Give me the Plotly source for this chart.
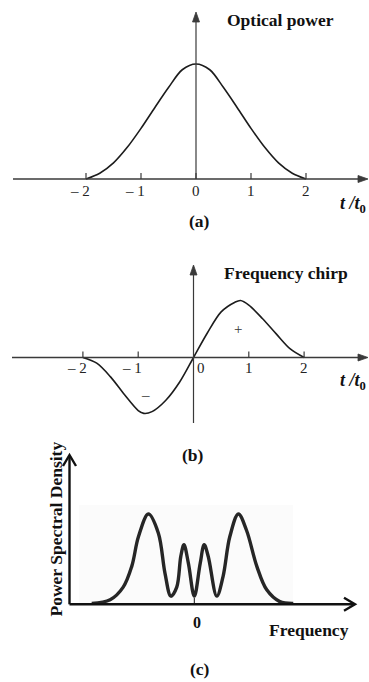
import plotly.graph_objects as go

W, H = 369, 682
SERIF = "Liberation Serif, Times New Roman, serif"
INK = "#111111"
AXIS = "#3a3a3a"

# (a) optical power of the pulse versus normalised time t/t0
power_t = [-2, -1.75, -1.5, -1.25, -1, -0.75, -0.5, -0.25, 0,
           0.25, 0.5, 0.75, 1, 1.25, 1.5, 1.75, 2]
power_val = [0, 0.05, 0.14, 0.275, 0.44, 0.62, 0.795, 0.95, 1.0,
             0.95, 0.795, 0.62, 0.44, 0.275, 0.14, 0.05, 0]

# (b) frequency chirp versus t/t0
chirp_t = [-2, -1.75, -1.5, -1.25, -1, -0.9, -0.75, -0.5, -0.25, 0,
           0.25, 0.5, 0.75, 0.85, 1, 1.25, 1.5, 1.75, 2]
chirp_val = [0, -0.10, -0.34, -0.65, -0.93, -0.98, -0.95, -0.75, -0.43, 0,
             0.43, 0.80, 0.97, 1.0, 0.92, 0.68, 0.41, 0.15, 0]

# (c) power spectral density versus frequency (arbitrary units)
freq = [-2.28, -1.87, -1.58, -1.39, -1.24, -1.02, -0.80, -0.65, -0.52, -0.39,
        -0.30, -0.23, -0.13, 0, 0.13, 0.22, 0.31, 0.50, 0.64, 0.79,
        0.98, 1.16, 1.39, 1.61, 1.90, 2.20]
psd = [0.01, 0.05, 0.19, 0.42, 0.75, 1.0, 0.79, 0.34, 0.09, 0.19,
       0.53, 0.66, 0.45, 0.09, 0.45, 0.66, 0.53, 0.09, 0.31, 0.75,
       1.0, 0.82, 0.42, 0.16, 0.03, 0.01]

time_ticks = [-2, -1, 0, 1, 2]
time_tick_text = ["\u2013 2", "\u2013 1", "0", "1", "2"]


def px(x):
    return x / W


def py(y):
    return 1 - y / H


class Panel:
    """Maps a data origin to pixel (x0, y0) with sx / sy pixels per unit."""

    def __init__(self, name, x0, sx, y0, sy, top, bottom):
        self.xr = "x" + name
        self.yr = "y" + name
        self.x0, self.sx, self.y0, self.sy = x0, sx, y0, sy
        self.xaxis = dict(domain=[0, 1], range=[-x0 / sx, (W - x0) / sx],
                          visible=False, fixedrange=True, anchor=self.yr)
        self.yaxis = dict(domain=[py(bottom), py(top)],
                          range=[(y0 - bottom) / sy, (y0 - top) / sy],
                          visible=False, fixedrange=True, anchor=self.xr)

    def dx(self, pixels):
        return pixels / self.sx

    def dy(self, pixels):
        return pixels / self.sy

    def at_px(self, xp, yp):
        return (xp - self.x0) / self.sx, (self.y0 - yp) / self.sy


pa = Panel("", 196, 55, 179, 115, 0, 230)
pb = Panel("2", 193.5, 55.3, 357.5, 57, 230, 440)
pc = Panel("3", 194.3, 45, 604.3, 90.3, 440, 682)

fig = go.Figure()
fig.add_trace(go.Scatter(x=power_t, y=power_val, mode="lines", xaxis="x", yaxis="y",
                         line=dict(color="#1c1c1c", width=1.6, shape="spline", smoothing=0.9),
                         hoverinfo="skip"))
fig.add_trace(go.Scatter(x=chirp_t, y=chirp_val, mode="lines", xaxis="x2", yaxis="y2",
                         line=dict(color="#1c1c1c", width=1.6, shape="spline", smoothing=0.9),
                         hoverinfo="skip"))
fig.add_trace(go.Scatter(x=freq, y=psd, mode="lines", xaxis="x3", yaxis="y3",
                         line=dict(color="#262626", width=3.4, shape="spline", smoothing=1.0),
                         hoverinfo="skip"))

shapes = []
annotations = []


def seg(p, a, b, width, color):
    shapes.append(dict(type="line", xref=p.xr, yref=p.yr, x0=a[0], y0=a[1], x1=b[0], y1=b[1],
                       line=dict(color=color, width=width), layer="above"))


def head_path(p, tip, direction, length, half, closed):
    """Arrow head (filled triangle or open chevron) pointing right or up."""
    tx, ty = tip
    if direction == "right":
        pts = [(tx - p.dx(length), ty + p.dy(half)), (tx, ty), (tx - p.dx(length), ty - p.dy(half))]
    else:
        pts = [(tx - p.dx(half), ty - p.dy(length)), (tx, ty), (tx + p.dx(half), ty - p.dy(length))]
    d = "M{},{} L{},{} L{},{}".format(*[v for pt in pts for v in pt]) + (" Z" if closed else "")
    return d


def filled_head(p, tip, direction, color):
    shapes.append(dict(type="path", xref=p.xr, yref=p.yr,
                       path=head_path(p, tip, direction, 10, 3.5, True),
                       fillcolor=color, line=dict(color=color, width=0.8), layer="above"))


def open_head(p, tip, direction, color, width):
    shapes.append(dict(type="path", xref=p.xr, yref=p.yr,
                       path=head_path(p, tip, direction, 11, 6.5, False),
                       line=dict(color=color, width=width), layer="above"))


def label(text, x, y, size, xref="paper", yref="paper", xshift=0, yshift=0,
          textangle=0, color=INK):
    annotations.append(dict(xref=xref, yref=yref, x=x, y=y, text=text, showarrow=False,
                            xanchor="center", yanchor="middle", xshift=xshift, yshift=yshift,
                            textangle=textangle,
                            font=dict(family=SERIF, size=size, color=color)))


# ---- panel (a): time axis, power axis, ticks
x_start, _ = pa.at_px(13, 179)
x_tip, _ = pa.at_px(368, 179)
_, y_tip = pa.at_px(196, 12)
seg(pa, (x_start, 0), (x_tip - pa.dx(6), 0), 1.5, AXIS)
filled_head(pa, (x_tip, 0), "right", AXIS)
seg(pa, (0, 0), (0, y_tip - pa.dy(6)), 1.2, AXIS)
filled_head(pa, (0, y_tip), "up", AXIS)
for t, txt in zip(time_ticks, time_tick_text):
    seg(pa, (t, 0), (t, pa.dy(6)), 1.2, AXIS)
    label(txt, t, 0, 15, xref="x", yref="y", xshift=-6 if t < 0 else 0, yshift=-11.5,
          color="#222222")
label("<b>Optical power</b>", px(280), py(20), 17.5)
label("<b><i>t /t</i><sub>0</sub></b>", px(353), py(205), 18)
label("<b>(a)</b>", px(200), py(221), 17.5)

# ---- panel (b): time axis, chirp axis, ticks
x_start, _ = pb.at_px(12, 357.5)
x_tip, _ = pb.at_px(368, 357.5)
_, y_low = pb.at_px(193.5, 423)
_, y_tip = pb.at_px(193.5, 265)
seg(pb, (x_start, 0), (x_tip - pb.dx(6), 0), 1.5, AXIS)
filled_head(pb, (x_tip, 0), "right", AXIS)
seg(pb, (0, y_low), (0, y_tip - pb.dy(6)), 1.2, AXIS)
filled_head(pb, (0, y_tip), "up", AXIS)
for t, txt in zip(time_ticks, time_tick_text):
    if t != 0:
        seg(pb, (t, 0), (t, pb.dy(6)), 1.2, AXIS)
    label(txt, t, 0, 15, xref="x2", yref="y2",
          xshift=-6 if t < 0 else (7 if t == 0 else 0), yshift=-10.5, color="#222222")
label("<b>Frequency chirp</b>", px(286), py(273), 17.5)
label("+", px(238.3), py(329), 15, color="#333333")
label("\u2013", px(145), py(395), 15, color="#333333")
label("<b><i>t /t</i><sub>0</sub></b>", px(353), py(382), 18)
label("<b>(b)</b>", px(192.5), py(455), 17.5)

# ---- panel (c): frequency axis, PSD axis, zero marker
x_org, _ = pc.at_px(69.5, 604.3)
x_tip, _ = pc.at_px(355, 604.3)
_, y_tip = pc.at_px(69.5, 455)
bx0, by1 = pc.at_px(79, 505)
bx1, _ = pc.at_px(293, 604.3)
shapes.append(dict(type="rect", xref="x3", yref="y3", x0=bx0, x1=bx1, y0=0, y1=by1,
                   fillcolor="#fbfbfb", line=dict(width=0), layer="below"))
seg(pc, (x_org, 0), (x_tip - pc.dx(1), 0), 2.4, "#111111")
open_head(pc, (x_tip, 0), "right", "#111111", 2.4)
seg(pc, (x_org, 0), (x_org, y_tip - pc.dy(1)), 2.4, "#111111")
open_head(pc, (x_org, y_tip), "up", "#111111", 2.4)
seg(pc, (0, 0), (0, 0.07), 1, "#111111")
label("<b>0</b>", 0, 0, 16, xref="x3", yref="y3", xshift=3, yshift=-18.5)
label("<b>Frequency</b>", px(309), py(630), 17.5)
label("<b>Power Spectral Density</b>", px(55.5), py(529), 17.5, textangle=-90)
label("<b>(c)</b>", px(200), py(669), 17.5)

fig.update_layout(
    width=W, height=H,
    margin=dict(l=0, r=0, t=0, b=0),
    paper_bgcolor="white", plot_bgcolor="rgba(0,0,0,0)",
    showlegend=False,
    xaxis=pa.xaxis, yaxis=pa.yaxis,
    xaxis2=pb.xaxis, yaxis2=pb.yaxis,
    xaxis3=pc.xaxis, yaxis3=pc.yaxis,
    shapes=shapes, annotations=annotations,
)

fig.write_html("out.html", config={"displayModeBar": False})
